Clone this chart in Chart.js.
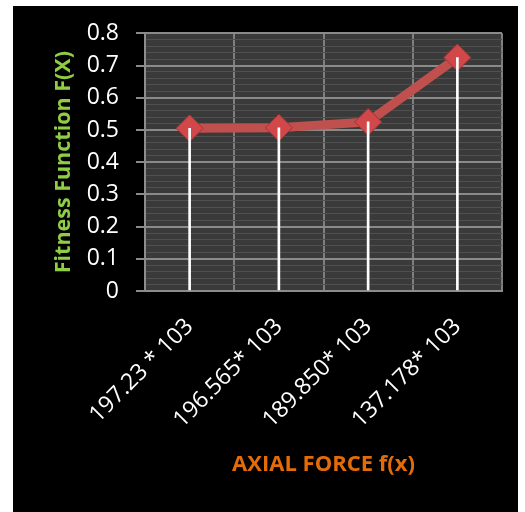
<!DOCTYPE html>
<html>
<head>
<meta charset="utf-8">
<script src="https://cdn.jsdelivr.net/npm/chart.js@4/dist/chart.umd.min.js"></script>
<style>
  html, body { margin: 0; padding: 0; background: #fff; }
  #wrap { position: absolute; left: 13px; top: 6px; width: 505px; height: 506px; background: #000; }
</style>
</head>
<body>
<div id="wrap"><canvas id="fitnessChart" width="505" height="506"></canvas></div>
<script>
// axial force cases and fitness values
const forceLabels = ['197.23 * 103', '196.565* 103', '189.850* 103', '137.178* 103'];
const fitnessValues = [0.505, 0.507, 0.525, 0.725];
const yTickLabels = ['0', '0.1', '0.2', '0.3', '0.4', '0.5', '0.6', '0.7', '0.8'];

const FONT = "'Open Sans', 'Liberation Sans', sans-serif";

function isMajor(v) {
  return Math.abs(v * 10 - Math.round(v * 10)) < 1e-6;
}

// dark plot background behind the grid
const plotBg = {
  id: 'plotBg',
  beforeDraw(chart) {
    const { ctx, chartArea: a } = chart;
    ctx.save();
    ctx.fillStyle = '#3a3a3a';
    ctx.fillRect(a.left, a.top, a.right - a.left, a.bottom - a.top);
    ctx.restore();
  }
};

new Chart(document.getElementById('fitnessChart'), {
  data: {
    labels: forceLabels,
    datasets: [
      {
        // white drop lines from each point to the axis
        type: 'bar',
        data: fitnessValues,
        backgroundColor: '#ffffff',
        barThickness: 2,
        order: 0
      },
      {
        type: 'line',
        data: fitnessValues,
        borderColor: '#c0504d',
        borderWidth: 9,
        pointStyle: 'rectRot',
        pointRadius: 13.5,
        pointBackgroundColor: '#d2474a',
        pointBorderColor: '#9c3533',
        pointBorderWidth: 1,
        tension: 0,
        order: 1
      }
    ]
  },
  options: {
    responsive: false,
    animation: false,
    devicePixelRatio: 1,
    layout: { padding: { left: 36, top: 10, right: 16, bottom: 30 } },
    plugins: {
      legend: { display: false },
      tooltip: { enabled: false }
    },
    scales: {
      x: {
        type: 'category',
        offset: true,
        grid: {
          offset: true,
          color: '#7f7f7f',
          lineWidth: 2,
          drawTicks: false
        },
        border: { color: '#8c8c8c', width: 2 },
        ticks: {
          color: '#ffffff',
          font: { family: FONT, size: 23 },
          maxRotation: 45,
          minRotation: 45,
          padding: 22
        },
        title: {
          display: true,
          text: 'AXIAL FORCE f(x)',
          color: '#e36c09',
          font: { family: FONT, size: 22, weight: 'bold' },
          padding: { top: 4, bottom: 4 }
        },
        afterFit(scale) { scale.height = 191; }
      },
      y: {
        min: 0,
        max: 0.8,
        grid: {
          color: ctx => isMajor(ctx.tick.value) ? '#8a8a8a' : '#505050',
          lineWidth: ctx => isMajor(ctx.tick.value) ? 2 : 1,
          tickColor: ctx => isMajor(ctx.tick.value) ? '#8a8a8a' : 'rgba(0,0,0,0)',
          tickLength: 9
        },
        border: { color: '#8c8c8c', width: 2 },
        ticks: {
          stepSize: 0.02,
          autoSkip: false,
          color: '#ffffff',
          font: { family: FONT, size: 23, lineHeight: 0.9 },
          padding: 17,
          callback: v => isMajor(v) ? yTickLabels[Math.round(v * 10)] : ''
        },
        title: {
          display: true,
          text: 'Fitness Function F(X)',
          color: '#8fce44',
          font: { family: FONT, size: 21.5, weight: 'bold' },
          padding: { top: 2, bottom: 4 }
        },
        afterFit(scale) { scale.width = 96; }
      }
    }
  },
  plugins: [plotBg]
});
</script>
</body>
</html>
